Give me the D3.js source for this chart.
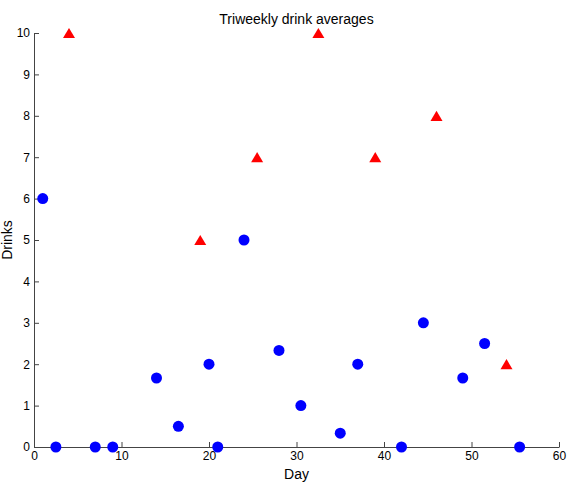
<!DOCTYPE html>
<html>
<head>
<meta charset="utf-8">
<script src="https://cdn.jsdelivr.net/npm/d3@7"></script>
<style>
  body { margin: 0; background: #fff; }
  svg { display: block; font-family: "Liberation Sans", Arial, Helvetica, sans-serif; }
  .axis path, .axis line { stroke: #444; }
  .axis text { fill: #000; font-size: 12px; }
</style>
</head>
<body>
<div id="grafico"></div>
<script>
// blue circles (day, drinks)
const circleDays   = [1, 2.5, 7, 9, 14, 16.5, 20, 21, 24, 28, 30.5, 35, 37, 42, 44.5, 49, 51.5, 55.5];
const circleDrinks = [6, 0, 0, 0, 1.667, 0.5, 2, 0, 5, 2.333, 1, 0.333, 2, 0, 3, 1.667, 2.5, 0];
// red triangles (day, drinks)
const triDays   = [4, 19, 25.5, 32.5, 39, 46, 54];
const triDrinks = [10, 5, 7, 10, 7, 8, 2];

const xTicks = [0, 10, 20, 30, 40, 50, 60];
const yTicks = [0, 1, 2, 3, 4, 5, 6, 7, 8, 9, 10];

const W = 570, H = 482;
const margin = {top: 33, right: 11, bottom: 35, left: 34};
const width = W - margin.left - margin.right;
const height = H - margin.top - margin.bottom;

const svg = d3.select("#grafico").append("svg")
    .attr("width", W)
    .attr("height", H)
  .append("g")
    .attr("transform", `translate(${margin.left},${margin.top})`);

const x = d3.scaleLinear().domain([0, 60]).range([0, width]);
const y = d3.scaleLinear().domain([0, 10]).range([height, 0]);

// axes, ticks pointing inward
svg.append("g")
    .attr("class", "axis")
    .attr("transform", `translate(0,${height})`)
    .call(d3.axisBottom(x).tickValues(xTicks).tickSizeInner(-5).tickSizeOuter(0).tickPadding(3))
    .call(g => g.selectAll("text").attr("dy", "0.85em"));

svg.append("g")
    .attr("class", "axis")
    .call(d3.axisLeft(y).tickValues(yTicks).tickSizeInner(-5).tickSizeOuter(0).tickPadding(4));

// triangle centred on its bounding box, like a matlab '^' marker
const tri = {
  draw(ctx, size) {
    const w = Math.sqrt(size), h = w * 0.85;
    ctx.moveTo(0, -h / 2);
    ctx.lineTo(w / 2, h / 2);
    ctx.lineTo(-w / 2, h / 2);
    ctx.closePath();
  }
};

const circles = circleDays.map((d, i) => [d, circleDrinks[i]]);
const triangles = triDays.map((d, i) => [d, triDrinks[i]]);

svg.selectAll("circle.pt")
  .data(circles)
  .enter()
  .append("circle")
    .attr("class", "pt")
    .attr("cx", d => x(d[0]))
    .attr("cy", d => y(d[1]))
    .attr("r", 5.5)
    .attr("fill", "#0000ff");

svg.selectAll("path.tri")
  .data(triangles)
  .enter()
  .append("path")
    .attr("class", "tri")
    .attr("transform", d => `translate(${x(d[0])},${y(d[1])})`)
    .attr("d", d3.symbol().type(tri).size(144))
    .attr("fill", "#ff0000");

// titles
svg.append("text")
    .attr("x", width / 2)
    .attr("y", -9)
    .attr("text-anchor", "middle")
    .style("font-size", "14px")
    .text("Triweekly drink averages");

svg.append("text")
    .attr("x", width / 2)
    .attr("y", height + 32)
    .attr("text-anchor", "middle")
    .style("font-size", "14px")
    .text("Day");

svg.append("text")
    .attr("transform", "rotate(-90)")
    .attr("x", -height / 2)
    .attr("y", -22)
    .attr("text-anchor", "middle")
    .style("font-size", "14px")
    .text("Drinks");
</script>
</body>
</html>
